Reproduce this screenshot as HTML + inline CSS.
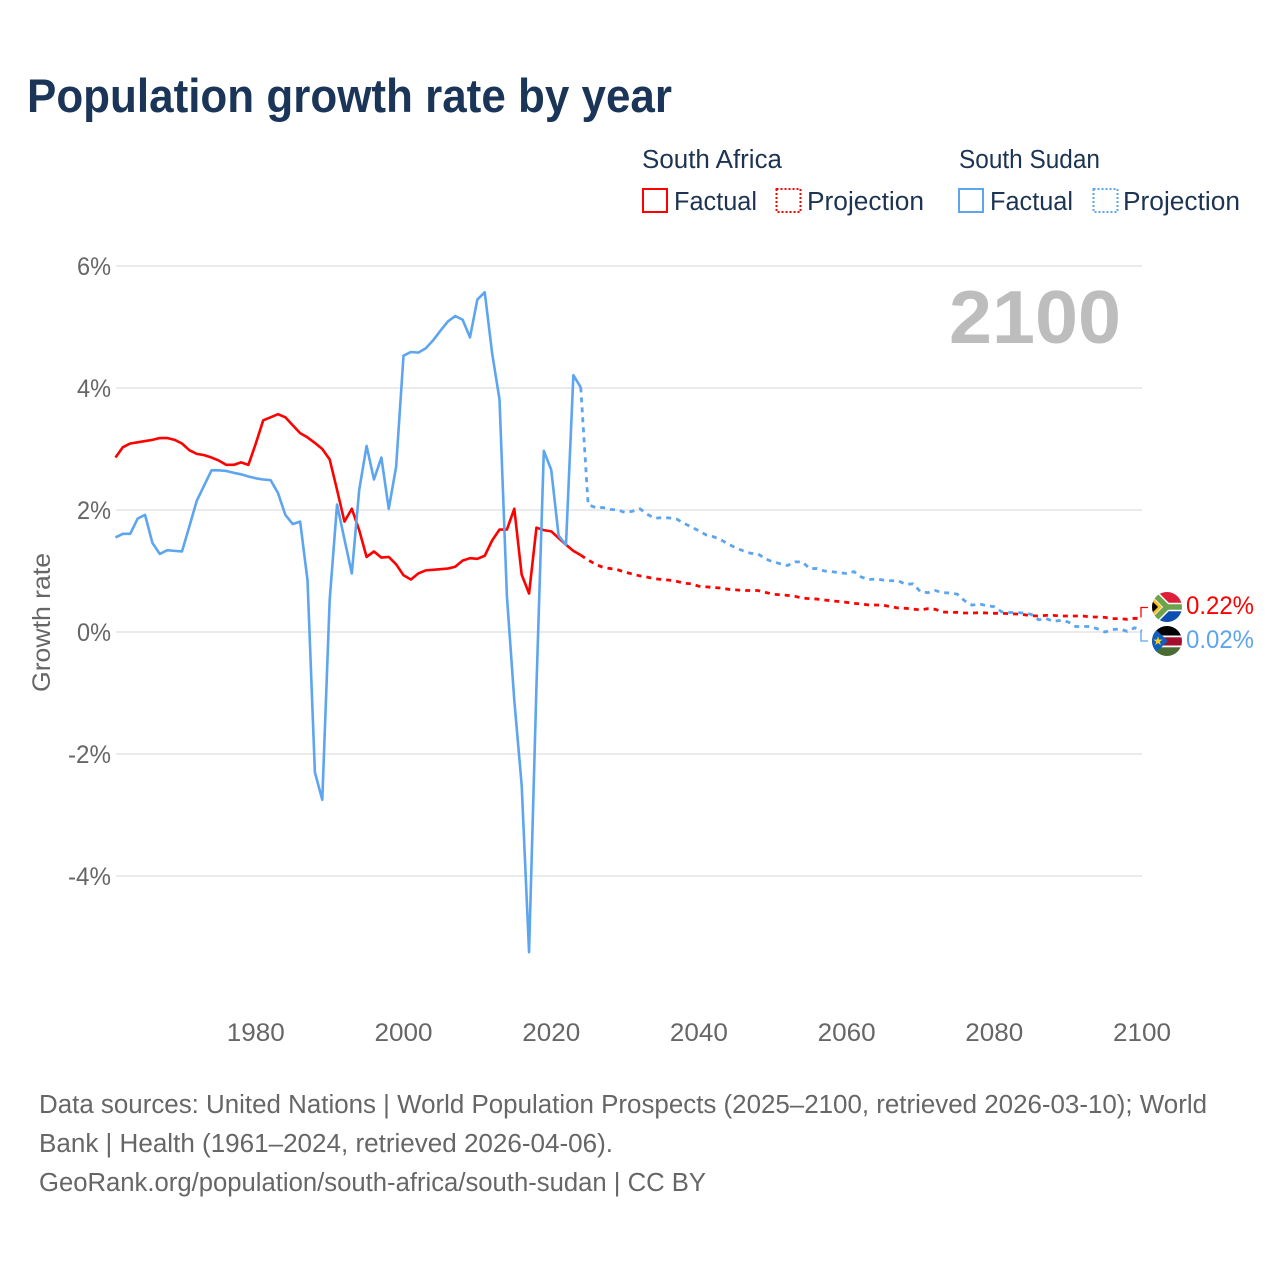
<!DOCTYPE html>
<html lang="en">
<head>
<meta charset="utf-8">
<title>Population growth rate by year</title>
<style>
html,body{margin:0;padding:0;background:#fff;width:1280px;height:1280px;overflow:hidden}
svg{display:block}
text{font-family:"Liberation Sans",sans-serif}
</style>
</head>
<body>
<svg id="chart" xmlns="http://www.w3.org/2000/svg" width="1280" height="1280" viewBox="0 0 1280 1280">
  <defs>
    <clipPath id="clip-sa"><circle cx="1167" cy="607" r="15"/></clipPath>
    <clipPath id="clip-ss"><circle cx="1167" cy="641" r="15"/></clipPath>
  </defs>
  <rect width="1280" height="1280" fill="#fff"/>
  <text x="27" y="112" font-size="47" font-weight="700" fill="#1a3557" textLength="645" lengthAdjust="spacingAndGlyphs">Population growth rate by year</text>

  <g fill="#1c3353" font-size="25.500">
    <text x="642" y="168" textLength="140" lengthAdjust="spacingAndGlyphs">South Africa</text>
    <text x="959" y="168" textLength="141" lengthAdjust="spacingAndGlyphs">South Sudan</text>
    <rect x="643" y="189" width="24" height="23" fill="none" stroke="#ff0000" stroke-width="2"/>
    <text x="674" y="210" textLength="83" lengthAdjust="spacingAndGlyphs">Factual</text>
    <rect x="776.500" y="189" width="24" height="23" fill="none" stroke="#ff0000" stroke-width="2" stroke-dasharray="2 2"/>
    <text x="807" y="210" textLength="117" lengthAdjust="spacingAndGlyphs">Projection</text>
    <rect x="959" y="189" width="24" height="23" fill="none" stroke="#5da5ee" stroke-width="2"/>
    <text x="990" y="210" textLength="83" lengthAdjust="spacingAndGlyphs">Factual</text>
    <rect x="1093.500" y="189" width="24" height="23" fill="none" stroke="#5da5ee" stroke-width="2" stroke-dasharray="2 2"/>
    <text x="1123" y="210" textLength="117" lengthAdjust="spacingAndGlyphs">Projection</text>
  </g>

  <g id="grid"></g>
  <g id="yticks"></g>
  <g id="xticks"></g>
  <text transform="translate(50,692) rotate(-90)" font-size="25" fill="#666" textLength="139" lengthAdjust="spacingAndGlyphs">Growth rate</text>
  <text x="949" y="343" font-size="75" font-weight="700" fill="#bdbdbd" textLength="172" lengthAdjust="spacingAndGlyphs">2100</text>

  <g id="series"></g>

  <path d="M1141 617.500V607.500H1148" fill="none" stroke="#ff0000" stroke-width="1.300"/>
  <path d="M1141 630V641H1148" fill="none" stroke="#5da5ee" stroke-width="1.300"/>

  <g clip-path="url(#clip-sa)">
    <rect x="1152" y="592" width="30" height="15" fill="#de1f3c"/>
    <rect x="1152" y="607" width="30" height="15" fill="#0a4fb0"/>
    <path d="M1150 590L1167 607H1184M1150 624L1167 607" fill="none" stroke="#fff" stroke-width="8.500"/>
    <path d="M1150 590L1167 607H1184M1150 624L1167 607" fill="none" stroke="#6da34d" stroke-width="5.500"/>
    <path d="M1150 595L1162 607L1150 619Z" fill="#f5c02c"/>
    <path d="M1150 599L1158 607L1150 615Z" fill="#000"/>
  </g>
  <g clip-path="url(#clip-ss)">
    <rect x="1152" y="626" width="30" height="11" fill="#000"/>
    <rect x="1152" y="637" width="30" height="9" fill="#a50f2d"/>
    <rect x="1152" y="646" width="30" height="10" fill="#4a6b33"/>
    <rect x="1152" y="635.500" width="30" height="1.800" fill="#fff"/>
    <rect x="1152" y="645.500" width="30" height="1.800" fill="#fff"/>
    <path d="M1152 626L1168 641L1152 656Z" fill="#0f5fc0"/>
    <text x="1158" y="645" font-size="12" text-anchor="middle" fill="#fcd116">★</text>
  </g>

  <text x="1186" y="614" font-size="25" fill="#ff0000" textLength="68" lengthAdjust="spacingAndGlyphs">0.22%</text>
  <text x="1186" y="648" font-size="25" fill="#5da5ee" textLength="68" lengthAdjust="spacingAndGlyphs">0.02%</text>

  <g fill="#666" font-size="25.500">
    <text x="39" y="1113" textLength="1168" lengthAdjust="spacingAndGlyphs">Data sources: United Nations | World Population Prospects (2025–2100, retrieved 2026-03-10); World</text>
    <text x="39" y="1152" textLength="574" lengthAdjust="spacingAndGlyphs">Bank | Health (1961–2024, retrieved 2026-04-06).</text>
    <text x="39" y="1191" textLength="667" lengthAdjust="spacingAndGlyphs">GeoRank.org/population/south-africa/south-sudan | CC BY</text>
  </g>
</svg>
<script>
const factualStartYear = 1961;
const projectionStartYear = 2024;
const southAfricaFactual = [2.86,3.03,3.09,3.11,3.13,3.15,3.18,3.18,3.15,3.09,2.98,2.92,2.90,2.86,2.81,2.74,2.74,2.78,2.74,3.09,3.47,3.52,3.57,3.52,3.39,3.26,3.19,3.10,3.00,2.83,2.33,1.81,2.02,1.67,1.23,1.32,1.22,1.23,1.11,0.93,0.86,0.96,1.01,1.02,1.03,1.04,1.07,1.17,1.21,1.20,1.25,1.50,1.68,1.68,2.02,0.94,0.63,1.71,1.67,1.65,1.54,1.43,1.33,1.26];
const southAfricaProjection = [1.26,1.18,1.11,1.06,1.04,1.02,0.98,0.95,0.92,0.90,0.875,0.86,0.85,0.83,0.80,0.79,0.75,0.74,0.73,0.72,0.70,0.69,0.68,0.68,0.68,0.65,0.62,0.61,0.60,0.585,0.557,0.546,0.54,0.525,0.51,0.50,0.486,0.47,0.46,0.443,0.443,0.437,0.415,0.393,0.388,0.377,0.361,0.382,0.372,0.328,0.322,0.322,0.311,0.311,0.317,0.311,0.306,0.306,0.30,0.295,0.284,0.268,0.262,0.273,0.273,0.262,0.262,0.262,0.262,0.246,0.246,0.24,0.219,0.219,0.208,0.224,0.22];
const southSudanFactual = [1.55,1.61,1.61,1.86,1.92,1.46,1.28,1.34,1.33,1.32,1.73,2.15,2.40,2.65,2.65,2.64,2.61,2.585,2.55,2.52,2.50,2.49,2.28,1.92,1.77,1.81,0.85,-2.30,-2.75,0.52,2.09,1.52,0.96,2.33,3.05,2.50,2.86,2.02,2.71,4.53,4.59,4.58,4.65,4.78,4.94,5.09,5.18,5.12,4.83,5.45,5.57,4.57,3.81,0.59,-1.12,-2.51,-5.25,-0.9,2.97,2.66,1.58,1.43,4.21,4.01];
const southSudanProjection = [4.01,2.09,2.04,2.04,2.01,2.00,1.96,1.98,2.02,1.93,1.865,1.875,1.87,1.85,1.78,1.72,1.66,1.59,1.56,1.51,1.44,1.38,1.33,1.29,1.28,1.20,1.15,1.12,1.09,1.15,1.15,1.04,1.04,1.00,0.99,0.97,0.96,0.99,0.90,0.86,0.87,0.85,0.84,0.84,0.78,0.79,0.66,0.645,0.68,0.645,0.64,0.62,0.51,0.44,0.46,0.43,0.415,0.33,0.32,0.32,0.31,0.29,0.20,0.22,0.175,0.19,0.165,0.09,0.09,0.09,0.05,0,0.04,0.05,0.01,0.07,0.02];
const yTickValues = [6,4,2,0,-2,-4];
const yTickLabels = ["6%","4%","2%","0%","-2%","-4%"];
const xTickValues = [1980,2000,2020,2040,2060,2080,2100];
const xTickLabels = ["1980","2000","2020","2040","2060","2080","2100"];

const SVG_NS = "http://www.w3.org/2000/svg";
function xScale(year){ return 115.5 + (year - 1961) * 7.385; }
function yScale(value){ return 632 - value * 61; }
function pointsFor(values, startYear){
  return values.map(function(v,i){ return xScale(startYear + i).toFixed(2) + "," + yScale(v).toFixed(2); }).join(" ");
}

const gridGroup = document.getElementById("grid");
const yTickGroup = document.getElementById("yticks");
yTickValues.forEach(function(v,i){
  const line = document.createElementNS(SVG_NS,"line");
  
  
  line.setAttribute("x1", 116);
  line.setAttribute("x2", 1142);
  line.setAttribute("y1", yScale(v));
  line.setAttribute("y2", yScale(v));
  line.setAttribute("stroke", "#ebebeb");
  line.setAttribute("stroke-width", "2");
  gridGroup.appendChild(line);
  const label = document.createElementNS(SVG_NS,"text");
  
  
  const labelWidth = yTickLabels[i].length > 2 ? 43 : 34;
  label.setAttribute("x", 111 - labelWidth);
  label.setAttribute("y", yScale(v) + 9);
  label.setAttribute("textLength", labelWidth);
  label.setAttribute("lengthAdjust", "spacingAndGlyphs");
  label.setAttribute("font-size", "25");
  label.setAttribute("fill", "#666");
  label.textContent = yTickLabels[i];
  yTickGroup.appendChild(label);
});

const xTickGroup = document.getElementById("xticks");
xTickValues.forEach(function(y,i){
  const label = document.createElementNS(SVG_NS,"text");
  
  
  label.setAttribute("x", xScale(y) - 29);
  label.setAttribute("y", 1041);
  label.setAttribute("font-size", "25");
  label.setAttribute("fill", "#666");
  label.setAttribute("textLength", "58");
  label.setAttribute("lengthAdjust", "spacingAndGlyphs");
  label.textContent = xTickLabels[i];
  xTickGroup.appendChild(label);
});

const seriesGroup = document.getElementById("series");

const saFactualLine = document.createElementNS(SVG_NS,"polyline");


saFactualLine.setAttribute("points", pointsFor(southAfricaFactual, factualStartYear));
saFactualLine.setAttribute("fill", "none");
saFactualLine.setAttribute("stroke", "#ff0000");
saFactualLine.setAttribute("stroke-width", "2.600");
saFactualLine.setAttribute("stroke-linejoin", "round");
seriesGroup.appendChild(saFactualLine);

const saProjectionLine = document.createElementNS(SVG_NS,"polyline");


saProjectionLine.setAttribute("points", pointsFor(southAfricaProjection, projectionStartYear));
saProjectionLine.setAttribute("fill", "none");
saProjectionLine.setAttribute("stroke", "#ff0000");
saProjectionLine.setAttribute("stroke-width", "2.800");
saProjectionLine.setAttribute("stroke-dasharray", "5 5");
seriesGroup.appendChild(saProjectionLine);

const ssFactualLine = document.createElementNS(SVG_NS,"polyline");


ssFactualLine.setAttribute("points", pointsFor(southSudanFactual, factualStartYear));
ssFactualLine.setAttribute("fill", "none");
ssFactualLine.setAttribute("stroke", "#5da5ee");
ssFactualLine.setAttribute("stroke-width", "2.600");
ssFactualLine.setAttribute("stroke-linejoin", "round");
seriesGroup.appendChild(ssFactualLine);

const ssProjectionLine = document.createElementNS(SVG_NS,"polyline");


ssProjectionLine.setAttribute("points", pointsFor(southSudanProjection, projectionStartYear));
ssProjectionLine.setAttribute("fill", "none");
ssProjectionLine.setAttribute("stroke", "#5da5ee");
ssProjectionLine.setAttribute("stroke-width", "2.800");
ssProjectionLine.setAttribute("stroke-dasharray", "5 5");
seriesGroup.appendChild(ssProjectionLine);
</script>
</body>
</html>
